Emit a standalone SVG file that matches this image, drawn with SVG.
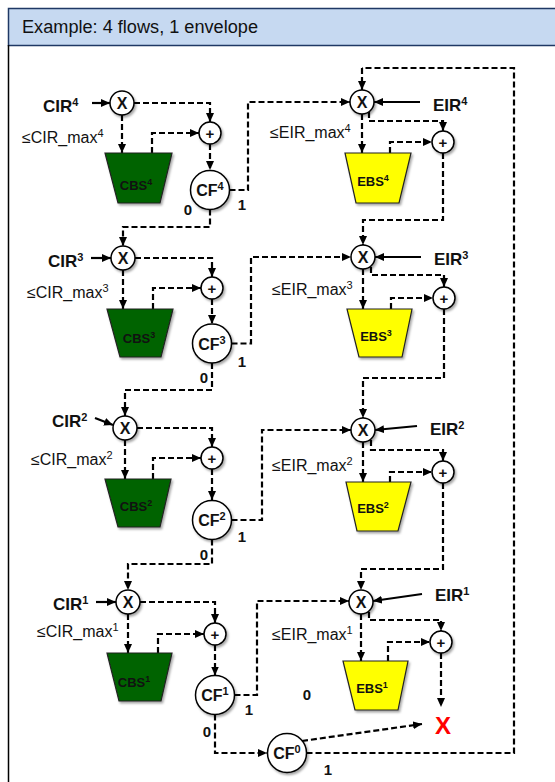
<svg xmlns="http://www.w3.org/2000/svg" width="555" height="782" viewBox="0 0 555 782">
<defs>
<marker id="ah" markerWidth="9" markerHeight="8" refX="9" refY="4" orient="auto" markerUnits="userSpaceOnUse"><path d="M0,0 L9,4 L0,8 z" fill="#000"/></marker>
<filter id="sh" x="-20%" y="-20%" width="150%" height="150%"><feDropShadow dx="1.5" dy="2" stdDeviation="1.2" flood-color="#000" flood-opacity="0.35"/></filter>
</defs>
<style>
text{font-family:"Liberation Sans",Arial,sans-serif;fill:#111}
.d{fill:none;stroke:#000;stroke-width:2.2;stroke-dasharray:6 3;marker-end:url(#ah)}
.dn{fill:none;stroke:#000;stroke-width:2.2;stroke-dasharray:6 3}
.s{fill:none;stroke:#000;stroke-width:2.2;marker-end:url(#ah)}
.c{fill:#fff;stroke:#000;stroke-width:1.5;filter:url(#sh)}
.cbs{fill:#006400;stroke:#222;stroke-width:1.2;filter:url(#sh)}
.ebs{fill:#ffff00;stroke:#222;stroke-width:1.2;filter:url(#sh)}
.lb{font-size:17px;font-weight:bold}
.lr{font-size:16px}
.bt{font-size:13px;font-weight:bold;text-anchor:middle}
.cf{font-size:16px;font-weight:bold;text-anchor:middle}
.ox{font-size:16px;font-weight:bold;text-anchor:middle}
.op{font-size:15px;font-weight:bold;text-anchor:middle}
.n{font-size:15px;font-weight:bold;text-anchor:middle}
</style>
<g id="frame">
<rect x="8.5" y="8.5" width="560" height="37" fill="#c6d9f1" stroke="#1f3864" stroke-width="1.5"/>
<line x1="8.5" y1="45" x2="8.5" y2="782" stroke="#000" stroke-width="1.5"/>
<text x="22" y="33" font-size="18" textLength="236" lengthAdjust="spacingAndGlyphs">Example: 4 flows, 1 envelope</text>
</g>
<g id="connectors">
<path class="s" d="M92,103 L110,103"/>
<path class="d" d="M134,103 L210,103 L210,122"/>
<path class="d" d="M122,115 L122,153"/>
<path class="d" d="M152,153 L152,133 L199,133"/>
<path class="d" d="M210,144 L210,170"/>
<path class="d" d="M229.5,190 L248,190 L248,102 L350,102"/>
<path class="d" d="M210,209.5 L210,227 L123,227 L123,246"/>
<path class="dn" d="M306.5,753 L514,753 L514,68 L362,68"/>
<path class="d" d="M362,68 L362,90"/>
<path class="s" d="M420,102 L374,102"/>
<path class="d" d="M369,112 L369,121 L443,121 L443,131"/>
<path class="d" d="M362,114 L362,153"/>
<path class="d" d="M390,153 L390,142 L432,142"/>
<path class="d" d="M443,153 L443,220 L363,220 L363,245"/>
<path class="s" d="M91,258 L111,258"/>
<path class="d" d="M135,258 L212,258 L212,277"/>
<path class="d" d="M123,270 L123,309"/>
<path class="d" d="M153,309 L153,288 L201,288"/>
<path class="d" d="M212,299 L212,324"/>
<path class="d" d="M231.5,343.5 L251,343.5 L251,257 L351,257"/>
<path class="d" d="M212,363 L212,390 L125,390 L125,416"/>
<path class="s" d="M421,257 L375,257"/>
<path class="d" d="M371,267 L371,275 L444,275 L444,287"/>
<path class="d" d="M363,269 L363,309"/>
<path class="d" d="M391,309 L391,298 L433,298"/>
<path class="d" d="M444,309 L444,378 L363,378 L363,418"/>
<path class="s" d="M95,418 L113,425"/>
<path class="d" d="M137,428 L212,428 L212,447"/>
<path class="d" d="M125,440 L125,479"/>
<path class="d" d="M153,479 L153,458 L201,458"/>
<path class="d" d="M212,469 L212,500"/>
<path class="d" d="M231.5,520 L262,520 L262,430 L351,430"/>
<path class="d" d="M212,539.5 L212,564 L128,564 L128,590"/>
<path class="s" d="M417,426 L375,430"/>
<path class="d" d="M371,440 L371,450 L443,450 L443,461"/>
<path class="d" d="M363,442 L363,482"/>
<path class="d" d="M390,482 L390,472 L432,472"/>
<path class="d" d="M443,483 L443,569 L361,569 L361,590"/>
<path class="s" d="M96,602 L116,602"/>
<path class="d" d="M140,602 L215,602 L215,623"/>
<path class="d" d="M128,614 L128,653"/>
<path class="d" d="M158,653 L158,634 L204,634"/>
<path class="d" d="M215,645 L215,675.5"/>
<path class="d" d="M234.5,695 L257,695 L257,601 L349,601"/>
<path class="d" d="M215,714.5 L215,753 L267,753"/>
<path class="s" d="M422,594 L373,601"/>
<path class="d" d="M369,612 L369,620 L441,620 L441,631"/>
<path class="d" d="M361,614 L361,661"/>
<path class="d" d="M388,661 L388,642 L430,642"/>
<path class="d" d="M441,653 L441,707"/>
<path class="d" d="M302,741 L422,724"/>
</g>
<g id="cir4"><text class="lb" x="43" y="112">CIR<tspan font-size="11" dy="-6">4</tspan></text></g>
<g id="cirmax4"><text class="lr" x="22" y="143">≤CIR_max<tspan font-size="11" dy="-6">4</tspan></text></g>
<g id="xc4"><circle class="c" cx="122" cy="103" r="12"/><text class="ox" x="122" y="109">X</text></g>
<g id="pc4"><circle class="c" cx="210" cy="133" r="11"/><text class="op" x="210" y="138.5">+</text></g>
<g id="cbs4"><polygon class="cbs" points="105,153 172,153 160,203 118,203"/><text class="bt" x="136" y="190">CBS<tspan font-size="9" dy="-5">4</tspan></text></g>
<g id="cf4"><circle class="c" cx="210" cy="190" r="19.5"/><text class="cf" x="210" y="196">CF<tspan font-size="11" dy="-6">4</tspan></text></g>
<g id="l4"><text class="n" x="188" y="215">0</text><text class="n" x="242" y="210">1</text></g>
<g id="xe4"><circle class="c" cx="362" cy="102" r="12"/><text class="ox" x="362" y="108">X</text></g>
<g id="eir4"><text class="lb" x="433" y="111">EIR<tspan font-size="11" dy="-6">4</tspan></text></g>
<g id="eirmax4"><text class="lr" x="270" y="138">≤EIR_max<tspan font-size="11" dy="-6">4</tspan></text></g>
<g id="pe4"><circle class="c" cx="443" cy="142" r="11"/><text class="op" x="443" y="147.5">+</text></g>
<g id="ebs4"><polygon class="ebs" points="345,153 411,153 399,203 356,203"/><text class="bt" x="373" y="186">EBS<tspan font-size="9" dy="-5">4</tspan></text></g>
<g id="cir3"><text class="lb" x="48" y="267">CIR<tspan font-size="11" dy="-6">3</tspan></text></g>
<g id="cirmax3"><text class="lr" x="27" y="298">≤CIR_max<tspan font-size="11" dy="-6">3</tspan></text></g>
<g id="xc3"><circle class="c" cx="123" cy="258" r="12"/><text class="ox" x="123" y="264">X</text></g>
<g id="pc3"><circle class="c" cx="212" cy="288" r="11"/><text class="op" x="212" y="293.5">+</text></g>
<g id="cbs3"><polygon class="cbs" points="107,309 173,309 161,357 120,357"/><text class="bt" x="139" y="343">CBS<tspan font-size="9" dy="-5">3</tspan></text></g>
<g id="cf3"><circle class="c" cx="212" cy="343.5" r="19.5"/><text class="cf" x="212" y="349.5">CF<tspan font-size="11" dy="-6">3</tspan></text></g>
<g id="l3"><text class="n" x="204" y="383">0</text><text class="n" x="242" y="367">1</text></g>
<g id="xe3"><circle class="c" cx="363" cy="257" r="12"/><text class="ox" x="363" y="263">X</text></g>
<g id="eir3"><text class="lb" x="434" y="265">EIR<tspan font-size="11" dy="-6">3</tspan></text></g>
<g id="eirmax3"><text class="lr" x="272" y="295">≤EIR_max<tspan font-size="11" dy="-6">3</tspan></text></g>
<g id="pe3"><circle class="c" cx="444" cy="298" r="11"/><text class="op" x="444" y="303.5">+</text></g>
<g id="ebs3"><polygon class="ebs" points="347,309 412,309 402,357 359,357"/><text class="bt" x="376" y="341">EBS<tspan font-size="9" dy="-5">3</tspan></text></g>
<g id="cir2"><text class="lb" x="52" y="427">CIR<tspan font-size="11" dy="-6">2</tspan></text></g>
<g id="cirmax2"><text class="lr" x="31" y="465">≤CIR_max<tspan font-size="11" dy="-6">2</tspan></text></g>
<g id="xc2"><circle class="c" cx="125" cy="428" r="12"/><text class="ox" x="125" y="434">X</text></g>
<g id="pc2"><circle class="c" cx="212" cy="458" r="11"/><text class="op" x="212" y="463.5">+</text></g>
<g id="cbs2"><polygon class="cbs" points="105,479 171,479 160,527 118,527"/><text class="bt" x="136" y="511">CBS<tspan font-size="9" dy="-5">2</tspan></text></g>
<g id="cf2"><circle class="c" cx="212" cy="520" r="19.5"/><text class="cf" x="212" y="526">CF<tspan font-size="11" dy="-6">2</tspan></text></g>
<g id="l2"><text class="n" x="204" y="560">0</text><text class="n" x="242" y="542">1</text></g>
<g id="xe2"><circle class="c" cx="363" cy="430" r="12"/><text class="ox" x="363" y="436">X</text></g>
<g id="eir2"><text class="lb" x="430" y="435">EIR<tspan font-size="11" dy="-6">2</tspan></text></g>
<g id="eirmax2"><text class="lr" x="272" y="471">≤EIR_max<tspan font-size="11" dy="-6">2</tspan></text></g>
<g id="pe2"><circle class="c" cx="443" cy="472" r="11"/><text class="op" x="443" y="477.5">+</text></g>
<g id="ebs2"><polygon class="ebs" points="346,482 411,482 398,531 357,531"/><text class="bt" x="373" y="513">EBS<tspan font-size="9" dy="-5">2</tspan></text></g>
<g id="cir1"><text class="lb" x="53" y="610">CIR<tspan font-size="11" dy="-6">1</tspan></text></g>
<g id="cirmax1"><text class="lr" x="37" y="637">≤CIR_max<tspan font-size="11" dy="-6">1</tspan></text></g>
<g id="xc1"><circle class="c" cx="128" cy="602" r="12"/><text class="ox" x="128" y="608">X</text></g>
<g id="pc1"><circle class="c" cx="215" cy="634" r="11"/><text class="op" x="215" y="639.5">+</text></g>
<g id="cbs1"><polygon class="cbs" points="107,653 172,653 161,701 119,701"/><text class="bt" x="134" y="687">CBS<tspan font-size="9" dy="-5">1</tspan></text></g>
<g id="cf1"><circle class="c" cx="215" cy="695" r="19.5"/><text class="cf" x="215" y="701">CF<tspan font-size="11" dy="-6">1</tspan></text></g>
<g id="l1"><text class="n" x="207" y="737">0</text><text class="n" x="249" y="715">1</text><text class="n" x="307" y="700">0</text></g>
<g id="xe1"><circle class="c" cx="361" cy="602" r="12"/><text class="ox" x="361" y="608">X</text></g>
<g id="eir1"><text class="lb" x="435" y="601">EIR<tspan font-size="11" dy="-6">1</tspan></text></g>
<g id="eirmax1"><text class="lr" x="272" y="640">≤EIR_max<tspan font-size="11" dy="-6">1</tspan></text></g>
<g id="pe1"><circle class="c" cx="441" cy="642" r="11"/><text class="op" x="441" y="647.5">+</text></g>
<g id="ebs1"><polygon class="ebs" points="343,661 408,661 398,710 355,710"/><text class="bt" x="372" y="693">EBS<tspan font-size="9" dy="-5">1</tspan></text></g>
<g id="cf0"><circle class="c" cx="287" cy="753" r="19.5"/><text class="cf" x="287" y="759">CF<tspan font-size="11" dy="-6">0</tspan></text><text class="n" x="328" y="775">1</text></g>
<g id="drop"><text x="443" y="734" font-size="24" font-weight="bold" text-anchor="middle" style="fill:#ff0000">X</text></g>
</svg>
